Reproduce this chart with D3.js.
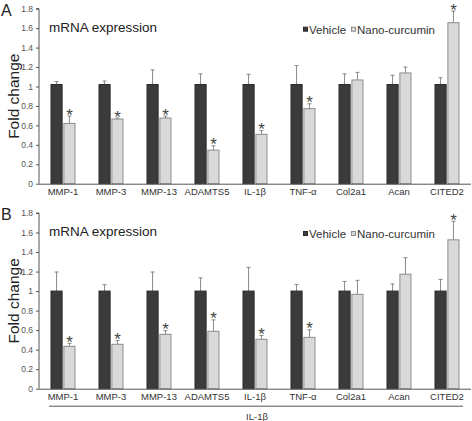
<!DOCTYPE html>
<html><head><meta charset="utf-8">
<script src="https://cdn.jsdelivr.net/npm/d3@7"></script>
<style>body{margin:0;background:#fff}svg{display:block;font-family:"Liberation Sans",Arial,sans-serif}</style>
</head><body>
<svg id="c" width="472" height="421"></svg>
<script>
const categories = ["MMP-1","MMP-3","MMP-13","ADAMTS5","IL-1β","TNF-α","Col2a1","Acan","CITED2"];
const series = ["Vehicle","Nano-curcumin"];
const yTicks = [0,0.2,0.4,0.6,0.8,1,1.2,1.4,1.6,1.8];
const tickLabels = ["0","0.2","0.4","0.6","0.8","1","1.2","1.4","1.6","1.8"];

const aVehicle = [1.02,1.02,1.02,1.02,1.02,1.02,1.02,1.02,1.02];
const aVehicleErr = [1.055,1.06,1.175,1.135,1.13,1.22,1.135,1.12,1.095];
const aNano = [0.62,0.665,0.675,0.345,0.508,0.772,1.067,1.139,1.656];
const aNanoErr = [0.70,0.68,0.70,0.395,0.552,0.827,1.15,1.204,1.78];
const aSig = [1,1,1,1,1,1,0,0,1];

const bVehicle = [1,1,1,1,1,1,1,1,1];
const bVehicleErr = [1.2,1.07,1.2,1.14,1.248,1.073,1.104,1.077,1.125];
const bNano = [0.434,0.455,0.557,0.588,0.506,0.526,0.967,1.173,1.525];
const bNanoErr = [0.47,0.50,0.60,0.71,0.55,0.609,1.115,1.347,1.72];
const bSig = [1,1,1,1,1,1,0,0,1];

const svg = d3.select("#c");
const axisX = 39, rightX = 471;

function panel(letter, y0, y18, veh, vehErr, nano, nanoErr, sig, showBracket) {
  const g = svg.append("g");
  const y = d3.scaleLinear().domain([0,1.8]).range([y0,y18]);
  const x = d3.scaleBand().domain(categories).range([axisX,rightX]).padding(0);
  const x1 = d3.scaleBand().domain(series).range([0,25]).paddingInner(0.06);
  const off = x.bandwidth()/2 - 12.5;
  const data = [veh, nano], errs = [vehErr, nanoErr];
  const fills = ["#3b3b3b","#d9d9d9"], strokes = ["#2a2a2a","#8c8c8c"];

  series.forEach((s,si)=>{
    g.selectAll(null).data(categories).enter().append("line")
      .attr("x1",(c)=>x(c)+off+x1(s)+x1.bandwidth()/2)
      .attr("x2",(c)=>x(c)+off+x1(s)+x1.bandwidth()/2)
      .attr("y1",(c,i)=>y(data[si][i]))
      .attr("y2",(c,i)=>y(errs[si][i]))
      .attr("stroke","#8a8a8a").attr("stroke-width",1);
    g.selectAll(null).data(categories).enter().append("line")
      .attr("x1",(c)=>x(c)+off+x1(s)+x1.bandwidth()/2-2)
      .attr("x2",(c)=>x(c)+off+x1(s)+x1.bandwidth()/2+2)
      .attr("y1",(c,i)=>y(errs[si][i])+0.5)
      .attr("y2",(c,i)=>y(errs[si][i])+0.5)
      .attr("stroke","#8a8a8a").attr("stroke-width",1);
    g.selectAll(null).data(categories).enter().append("rect")
      .attr("x",(c)=>x(c)+off+x1(s)+0.5)
      .attr("width",x1.bandwidth()-1)
      .attr("y",(c,i)=>y(data[si][i]))
      .attr("height",(c,i)=>y(0)-y(data[si][i]))
      .attr("fill",fills[si]).attr("stroke",strokes[si]).attr("stroke-width",1);
  });
  g.selectAll(null).data(categories.filter((c,i)=>sig[i])).enter().append("text")
    .attr("x",(c)=>x(c)+off+x1("Nano-curcumin")+x1.bandwidth()/2)
    .attr("y",(c)=>y(nanoErr[categories.indexOf(c)])+5)
    .attr("text-anchor","middle").attr("font-size",17).attr("fill","#444").text("*");

  const ya = d3.axisLeft(y).tickValues(yTicks).tickFormat((d,i)=>tickLabels[i]).tickSize(3).tickPadding(3);
  const ag = g.append("g").attr("transform",`translate(${axisX},0)`).call(ya);
  ag.select(".domain").attr("stroke","#555").attr("d",`M-3,${y18}H0V${y0}`);
  ag.selectAll(".tick line").attr("stroke","#555");
  ag.selectAll(".tick text").attr("font-size",8.5).attr("fill","#555").attr("font-family","Liberation Sans, Arial, sans-serif");
  const xa = d3.axisBottom(x).tickSize(0).tickPadding(5);
  const xg = g.append("g").attr("transform",`translate(0,${y0})`).call(xa);
  xg.select(".domain").attr("stroke","#555").attr("d",`M${axisX},0.5H${rightX}`);
  xg.selectAll(".tick text").attr("font-size",9.5).attr("fill","#333").attr("font-family","Liberation Sans, Arial, sans-serif");

  g.append("text").attr("x",1).attr("y",y18+7).attr("font-size",16).attr("fill","#222").text(letter);
  g.append("text").attr("x",49).attr("y",y18+23).attr("font-size",13.5).attr("fill","#222").text("mRNA expression");
  g.append("text").attr("transform",`translate(19,${(y0+y18)/2}) rotate(-90)`)
    .attr("text-anchor","middle").attr("font-size",15.5).attr("fill","#222").text("Fold change");

  const ly = y18 + 25;
  const lg = g.append("g");
  lg.append("rect").attr("x",303.5).attr("y",ly-6.5).attr("width",4).attr("height",4).attr("fill","#3b3b3b").attr("stroke","#2a2a2a");
  lg.append("text").attr("x",309).attr("y",ly).attr("font-size",11.5).attr("fill","#333").text(series[0]);
  lg.append("rect").attr("x",351.5).attr("y",ly-6.5).attr("width",4).attr("height",4).attr("fill","#d9d9d9").attr("stroke","#8c8c8c");
  lg.append("text").attr("x",357).attr("y",ly).attr("font-size",11.5).attr("fill","#333").text(series[1]);

  if (showBracket) {
    g.append("line").attr("x1",49).attr("x2",463).attr("y1",y0+17.5).attr("y2",y0+17.5).attr("stroke","#555");
    g.append("text").attr("x",257).attr("y",y0+31).attr("text-anchor","middle").attr("font-size",9.5).attr("fill","#333").text("IL-1β");
  }
}

panel("A", 183.7, 8.7, aVehicle, aVehicleErr, aNano, aNanoErr, aSig, false);
panel("B", 388.7, 213, bVehicle, bVehicleErr, bNano, bNanoErr, bSig, true);
</script>
</body></html>
